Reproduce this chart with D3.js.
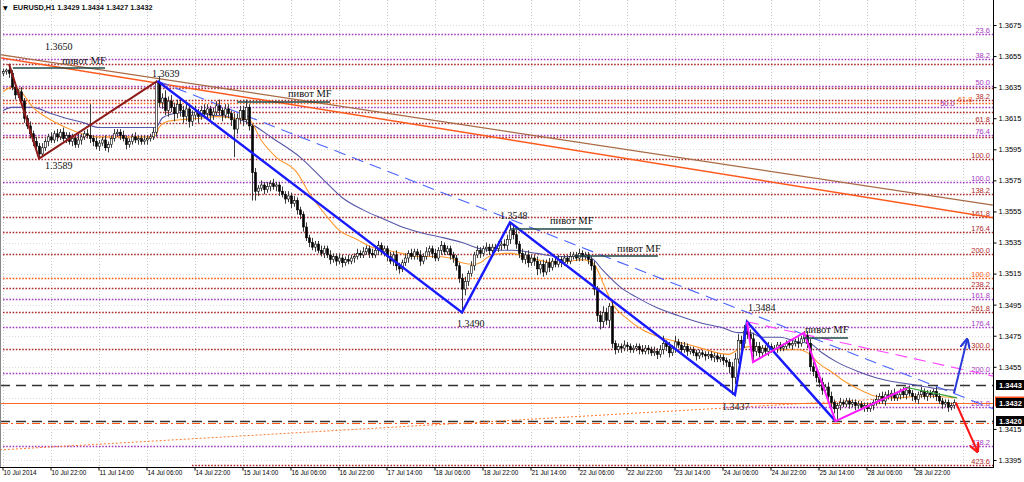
<!DOCTYPE html>
<html><head><meta charset="utf-8">
<script src="https://cdn.jsdelivr.net/npm/d3@7"></script>
<style>body{margin:0;background:#fff;}svg{display:block;}</style>
</head><body>
<svg id="c" width="1024" height="482"></svg>
<script>
// ---------- DATA (prices in pips above 1.3000, bar index = hourly bar) ----------
const title = "EURUSD,H1  1.3429 1.3434 1.3427 1.3432";
const tickLabels = ["10 Jul 2014","10 Jul 22:00","11 Jul 14:00","14 Jul 06:00","14 Jul 22:00","15 Jul 14:00","16 Jul 06:00","16 Jul 22:00","17 Jul 14:00","18 Jul 06:00","18 Jul 22:00","21 Jul 14:00","22 Jul 06:00","22 Jul 22:00","23 Jul 14:00","24 Jul 06:00","24 Jul 22:00","25 Jul 14:00","28 Jul 06:00","28 Jul 22:00"];
const tickBars = [0,16,32,48,64,80,96,112,128,144,160,176,192,208,224,240,256,272,288,304];
const priceTicks = [3675,3655,3635,3615,3595,3575,3555,3535,3515,3495,3475,3455,3415,3395];
const firstOpen = 3644;
const closes = [
3645,3646,3644,3635,3630,3632,3626,3615,3610,3605,
3600,3597,3592,3596,3600,3603,3601,3605,3603,3606,
3602,3604,3600,3602,3598,3601,3603,3605,3604,3602,
3600,3597,3599,3601,3596,3598,3602,3605,3606,3604,
3602,3598,3600,3603,3601,3602,3600,3601,3602,3603,
3606,3638,3625,3628,3620,3626,3622,3618,3624,3620,
3616,3621,3613,3617,3619,3616,3620,3618,3621,3617,
3619,3623,3620,3617,3621,3618,3614,3608,3615,3620,
3614,3622,3610,3580,3568,3570,3572,3569,3571,3573,
3571,3572,3568,3566,3563,3565,3560,3562,3556,3553,
3545,3538,3535,3532,3534,3530,3528,3531,3527,3524,
3526,3523,3525,3522,3524,3523,3525,3526,3528,3527,
3529,3531,3528,3527,3530,3533,3529,3531,3526,3523,
3527,3520,3518,3522,3525,3528,3526,3529,3527,3523,
3526,3529,3531,3528,3525,3530,3533,3529,3531,3527,
3525,3520,3512,3505,3510,3515,3520,3527,3530,3528,
3531,3532,3530,3532,3531,3533,3534,3533,3537,3543,
3540,3534,3528,3524,3527,3522,3525,3523,3518,3521,
3516,3522,3519,3523,3521,3524,3522,3525,3523,3526,
3527,3525,3528,3526,3527,3524,3520,3505,3488,3484,
3490,3485,3494,3470,3466,3468,3467,3469,3468,3466,
3467,3468,3466,3465,3467,3466,3464,3465,3463,3466,
3470,3468,3464,3467,3471,3469,3466,3468,3465,3466,
3464,3462,3464,3463,3462,3463,3461,3462,3460,3461,
3459,3458,3455,3448,3460,3472,3470,3478,3476,3473,
3465,3468,3464,3467,3465,3468,3466,3467,3469,3467,
3468,3470,3469,3470,3471,3470,3473,3475,3470,3455,
3452,3448,3445,3440,3442,3436,3432,3428,3430,3432,
3431,3433,3431,3432,3430,3431,3429,3430,3428,3430,
3432,3434,3436,3433,3437,3436,3438,3435,3437,3439,
3437,3440,3438,3436,3434,3437,3439,3436,3438,3437,
3439,3436,3433,3431,3432,3429,3430,3432];
const wickUp = [
2,1,4,2,3,2,3,2,2,3, 2,3,2,3,2,2,3,2,3,2, 3,2,2,3,2,4,2,2,3,20, 2,3,2,2,3,2,2,3,2,2,
3,2,2,2,3,2,2,3,2,2, 3,1,4,3,5,3,4,3,3,4, 3,4,3,3,4,2,3,4,3,2, 3,3,4,2,3,3,2,4,3,3,
3,5,2,1,3,2,3,2,3,2, 3,2,2,3,2,3,2,3,2,2, 2,3,2,3,2,2,3,2,2,3, 2,2,3,2,2,3,2,2,3,2,
3,2,2,3,3,3,2,2,2,3, 2,3,2,2,3,2,3,2,2,3, 2,3,2,2,3,2,3,2,2,2, 2,2,2,3,3,2,3,2,3,2,
2,3,2,2,2,3,2,3,3,5, 3,3,2,3,2,3,2,2,3,2, 3,2,3,2,2,3,2,2,2,3, 2,2,3,2,2,2,2,3,2,3,
4,3,2,3,2,2,2,3,2,2, 2,2,2,3,2,2,2,3,2,3, 5,2,3,2,4,2,2,3,2,2, 2,2,2,2,2,2,2,2,2,2,
2,2,2,3,4,4,3,4,6,3, 4,3,3,2,2,3,2,2,2,2, 2,2,2,2,2,3,2,3,3,3, 3,3,2,3,2,3,3,2,2,3,
2,2,2,2,2,2,2,2,2,2, 2,3,2,3,2,3,2,3,2,2, 3,2,3,2,2,2,3,2,2,2, 2,3,2,2,2,2,2,2];
const wickDn = [
2,2,3,2,3,2,3,3,2,3, 3,2,3,2,2,3,2,2,3,2, 2,3,2,3,2,2,3,2,2,3, 3,2,3,2,2,3,2,2,2,3,
2,3,2,2,2,3,2,2,3,2, 2,3,3,4,3,4,3,5,3,4, 4,3,4,3,3,4,2,3,3,4, 3,2,3,4,2,3,4,18,3,3,
4,3,3,18,6,3,2,3,2,3, 2,3,3,2,3,2,3,2,3,3, 3,2,3,2,3,2,2,3,2,3, 2,3,2,3,2,2,2,3,2,2,
2,2,3,2,2,3,2,3,3,2, 3,3,3,2,2,3,2,2,3,3, 2,2,3,3,2,2,3,2,2,3, 3,3,3,15,4,3,2,3,2,3,
2,2,3,2,2,2,3,2,3,3, 3,3,3,2,3,3,2,3,4,3, 3,2,3,2,2,2,3,2,2,2, 2,2,2,3,2,3,3,4,4,5,
4,3,5,3,3,2,3,2,3,2, 2,2,3,2,2,3,2,2,3,2, 3,3,3,2,3,2,3,2,3,2, 2,3,2,2,3,2,2,3,2,2,
3,3,4,11,4,3,5,3,3,3, 7,3,3,2,2,3,2,2,3,2, 2,2,2,3,2,3,2,2,3,3, 3,3,3,3,3,3,3,3,8,3,
2,2,3,2,3,2,2,3,2,2, 3,2,3,2,3,2,3,2,2,3, 2,3,2,3,2,3,2,2,3,2, 2,3,2,3,2,3,2,2];
const fastMA = [[0,3632],[3,3635],[6,3632],[10,3622],[15,3615],[21,3609],[28,3604],[32,3603],[38,3603],[48,3603],[51,3604],[52,3609],[55,3613],[59,3614],[66,3615],[71,3616],[77,3615],[82,3614],[86,3601],[91,3590],[98,3580],[102,3567],[107,3554],[112,3543],[118,3537],[123,3532],[128,3530],[133,3528],[138,3526],[145,3526],[149,3525],[153,3522],[157,3521],[159,3522],[162,3526],[167,3528],[170,3528],[173,3526],[178,3524],[183,3522],[189,3523],[193,3524],[197,3521],[200,3509],[203,3496],[208,3486],[213,3479],[219,3474],[225,3471],[231,3468],[238,3464],[242,3463],[245,3466],[249,3468],[253,3467],[259,3466],[265,3466],[269,3463],[272,3457],[276,3452],[281,3445],[287,3439],[291,3436],[298,3435],[305,3436],[310,3436],[317,3435]];
const slowMA = [[0,3620],[3,3622],[10,3622],[16,3618],[21,3615],[27,3612],[32,3609],[48,3609],[51,3609],[53,3615],[57,3618],[61,3619],[66,3618],[70,3617],[75,3616],[79,3614],[82,3612],[90,3602],[99,3590],[107,3575],[113,3564],[120,3556],[127,3550],[133,3545],[140,3541],[147,3538],[153,3535],[159,3531],[162,3530],[170,3530],[178,3528],[185,3526],[192,3526],[196,3525],[200,3517],[206,3506],[211,3500],[218,3493],[225,3488],[233,3483],[240,3480],[245,3477],[249,3477],[253,3474],[259,3474],[265,3471],[269,3470],[273,3464],[278,3458],[285,3452],[291,3448],[298,3445],[305,3443],[311,3441],[317,3440]];
const redZig = [[2,3650],[12,3589],[51.5,3639]];
const blueZig = [[51.5,3639],[153,3490],[169,3548],[244,3437],[248,3484],[277.5,3420]];
const pinkZig = [[248,3484],[250,3458],[267,3477],[277.5,3420],[302,3442]];
const orangeTrend = [[-1,3654],[330,3551]];
const brownTrend = [[-1,3656],[330,3559]];
const blueDashTrend = [[51.5,3639],[330,3428]];
const pinkDashTrend = [[248,3484],[330,3449]];
const greenTrend = [[300.5,3442],[318,3435]];
const orangeDotTrend = [[-1,3401.5],[299,3435]];
const upArrow = [[317,3438],[321.3,3472]];
const downArrow = [[317.6,3432],[324.7,3401]];
const fibPrices = [3669.2,3653.1,3649.9,3635.7,3634.5,3626.7,3624.8,3622.2,3619.0,3611.9,3604.2,3602.9,3588.8,3574.0,3566.2,3551.4,3541.8,3527.6,3512.1,3505.7,3498.6,3490.3,3480.6,3466.4,3451.0,3429.1,3404.0,3391.8];
const fibLabels = ["23.6","38.2","38.2","50.0","50.0","38.2","61.8","50.0","50.0","61.8","76.4","76.4","100.0","100.0","138.2","161.8","176.4","200.0","100.0","238.2","161.8","261.8","176.4","300.0","200.0","261.8","338.2","423.6"];
const fibSet = ["B","B","A","B","A","A","C","B","A","A","B","A","A","B","A","A","A","A","C","A","B","A","B","A","B","B","B","A"];
const fibStart = [0,0,0,0,0,0,0,0,0,0,0,0,0,0,0,0,0,0,0,0,0,0,0,0,0,240,0,63];
const levelPrices = [3443,3432,3420,3418.6];
const levelKinds = ["dash","solid","dash","dashdot"];
const tagPrices = [3443,3432,3420];
const pivotTexts = ["1.3650","1.3589","1.3639","1.3548","1.3490","1.3484","1.3437"];
const pivotAt = [[14,3659],[14,3582],[49.7,3641.5],[165.7,3550],[151.3,3480.6],[248.3,3491],[239.7,3427]];
const mfLines = [[3.3,34,3647.3],[78,109,3625.4],[169,196.3,3543.7],[190.7,218.3,3526.3],[266.7,281.7,3473.5]];
const mfTextAt = [[19.7,3649.9],[95,3628.7],[182.3,3546.9],[204.7,3528.9],[267.3,3476.7]];
const mfText = "пивот MF";

// ---------- CHART ----------
const svg = d3.select("#c");
const L=3, R=993, T=0, B=467;
const x = d3.scaleLinear().domain([0,330]).range([3,993]);
const y = d3.scaleLinear().domain([3390.5,3691.1]).range([B,T]);
const col = {A:"#b02a2a", B:"#a63ac4", C:"#ff5a14"};
const SANS = "Liberation Sans, Arial, sans-serif";
const SERIF = "Liberation Serif, Times New Roman, serif";

svg.append("rect").attr("width",1024).attr("height",482).attr("fill","#fff");
const defs = svg.append("defs");
defs.append("clipPath").attr("id","pc").append("rect").attr("x",0).attr("y",T).attr("width",R).attr("height",B-T);
const g = svg.append("g").attr("clip-path","url(#pc)");

// grid
g.selectAll(".vg").data(tickBars.concat([320])).enter().append("line")
  .attr("x1",d=>Math.round(x(d))+0.5).attr("x2",d=>Math.round(x(d))+0.5).attr("y1",T).attr("y2",B)
  .attr("stroke","#c8c8c8").attr("stroke-dasharray","1,2");
g.selectAll(".hg").data(priceTicks.concat([3435])).enter().append("line")
  .attr("x1",0).attr("x2",R).attr("y1",d=>Math.round(y(d))+0.5).attr("y2",d=>Math.round(y(d))+0.5)
  .attr("stroke","#dadada").attr("stroke-dasharray","1,2");

// fib levels (labels: identical neighbours share one text, near neighbours are shifted left)
const placed = [];
fibPrices.forEach((p,i)=>{
  const yy = Math.round(y(p))+0.5;
  g.append("line").attr("x1",x(fibStart[i])).attr("x2",R).attr("y1",yy).attr("y2",yy)
    .attr("stroke",col[fibSet[i]]).attr("stroke-width",1.4).attr("stroke-dasharray","1.6,1.6");
  const ty = yy-2;
  const dup = placed.find(q=>Math.abs(q.y-ty)<8 && q.t===fibLabels[i]);
  if(dup) return;
  let tx = 990;
  placed.filter(q=>Math.abs(q.y-ty)<7.5).forEach(q=>{ tx = Math.min(tx, q.x0-3); });
  const t = g.append("text").attr("x",tx).attr("y",ty).attr("text-anchor","end")
    .attr("font-family",SANS).attr("font-size",7.5)
    .attr("fill",col[fibSet[i]]).text(fibLabels[i]);
  const w = t.node().getComputedTextLength();
  placed.push({y:ty,x0:tx-w,t:fibLabels[i]});
});

// levels
levelPrices.forEach((p,i)=>{
  const yy = Math.round(y(p))+0.5;
  const k = levelKinds[i];
  const ln = g.append("line").attr("x1",0).attr("x2",R).attr("y1",yy).attr("y2",yy);
  if(k==="dash") ln.attr("stroke","#333").attr("stroke-width",1.3).attr("stroke-dasharray","10,6");
  else if(k==="solid") ln.attr("stroke","#ff6a2a").attr("stroke-width",1.2);
  else ln.attr("stroke","#ff5a14").attr("stroke-width",1).attr("stroke-dasharray","8,3,2,3");
});

const line = d3.line().x(d=>x(d[0])).y(d=>y(d[1]));
const path = (data,stroke,w,dash)=>{
  const p = g.append("path").datum(data).attr("d",line).attr("fill","none")
    .attr("stroke",stroke).attr("stroke-width",w);
  if(dash) p.attr("stroke-dasharray",dash);
  return p;
};

// trendlines
path(brownTrend,"#a86a44",1.2);
path(orangeTrend,"#ff5a1e",1.5);
path(orangeDotTrend,"#ff7a30",1,"2,2");
path(blueDashTrend,"#4a64ff",1.1,"12,7");
path(pinkDashTrend,"#ff44ff",1.1,"12,7");

// moving averages
const smooth = d3.line().x(d=>x(d[0])).y(d=>y(d[1])).curve(d3.curveMonotoneX);
g.append("path").datum(slowMA).attr("d",smooth).attr("fill","none").attr("stroke","#5656a8").attr("stroke-width",1.1);
g.append("path").datum(fastMA).attr("d",smooth).attr("fill","none").attr("stroke","#ff9a30").attr("stroke-width",1.1);

// candles
const bars = closes.map((c,i)=>{
  const o = i===0 ? firstOpen : closes[i-1];
  return {i,o,c,h:Math.max(o,c)+wickUp[i],l:Math.min(o,c)-wickDn[i]};
});
const cg = g.append("g");
cg.selectAll("line").data(bars).enter().append("line")
  .attr("x1",d=>Math.round(x(d.i))+0.5).attr("x2",d=>Math.round(x(d.i))+0.5)
  .attr("y1",d=>y(d.h)).attr("y2",d=>y(d.l)).attr("stroke","#3a3a3a").attr("stroke-width",1);
cg.selectAll("rect").data(bars).enter().append("rect")
  .attr("x",d=>Math.round(x(d.i))-0.5).attr("width",2)
  .attr("y",d=>y(Math.max(d.o,d.c))).attr("height",d=>Math.max(1,Math.abs(y(d.o)-y(d.c))))
  .attr("fill",d=>d.c>=d.o?"#fff":"#000").attr("stroke","#000").attr("stroke-width",0.6);

// zigzags
path(redZig,"#8e1c1c",2);
path(blueZig,"#1a1aff",2.4);
path(pinkZig,"#ff1aff",2);
path(greenTrend,"#30a030",1.2);

// pivot MF lines + texts
mfLines.forEach(m=>{
  g.append("line").attr("x1",x(m[0])).attr("x2",x(m[1])).attr("y1",y(m[2])).attr("y2",y(m[2]))
   .attr("stroke","#1e4848").attr("stroke-width",1.6);
});
mfTextAt.forEach(t=>{
  g.append("text").attr("x",x(t[0])).attr("y",y(t[1]))
   .attr("font-family",SERIF).attr("font-size",10.5).attr("fill","#111").text(mfText);
});
pivotTexts.forEach((t,i)=>{
  g.append("text").attr("x",x(pivotAt[i][0])).attr("y",y(pivotAt[i][1]))
   .attr("font-family",SERIF).attr("font-size",10).attr("fill","#111").text(t);
});

// arrows
[["ab","#2a3ad8"],["ar","#ff1414"]].forEach(([id,c])=>{
  defs.append("marker").attr("id",id).attr("viewBox","0 0 10 10").attr("refX",8).attr("refY",5)
    .attr("markerWidth",5).attr("markerHeight",5).attr("orient","auto")
    .append("path").attr("d","M0,0 L10,5 L0,10").attr("fill","none").attr("stroke",c).attr("stroke-width",2.2);
});
path(upArrow,"#2a3ad8",2).attr("marker-end","url(#ab)");
path(downArrow,"#ff1414",2).attr("marker-end","url(#ar)");

// frame
svg.append("line").attr("x1",R+0.5).attr("x2",R+0.5).attr("y1",0).attr("y2",B+1).attr("stroke","#000");
svg.append("line").attr("x1",0).attr("x2",R+1).attr("y1",B+0.5).attr("y2",B+0.5).attr("stroke","#000");
svg.append("line").attr("x1",0.5).attr("x2",0.5).attr("y1",0).attr("y2",B).attr("stroke","#888");

// right axis
const ra = svg.append("g").attr("transform",`translate(${R+0.5},0)`)
  .call(d3.axisRight(y).tickValues(priceTicks).tickSize(3).tickFormat(d=>"1."+d));
ra.select(".domain").remove();
ra.selectAll("text").attr("font-family",SANS).attr("font-size",7.5).attr("fill","#000").attr("x",5);
ra.selectAll("line").attr("stroke","#000");

// price tags
svg.append("rect").attr("x",R+2).attr("y",y(3432)-6).attr("width",31).attr("height",10).attr("fill","#ff4a1a");
tagPrices.forEach(p=>{
  svg.append("rect").attr("x",R+3).attr("y",Math.round(y(p))-5).attr("width",31).attr("height",10).attr("fill","#000");
  svg.append("text").attr("x",R+6).attr("y",Math.round(y(p))+3).attr("font-family",SANS)
   .attr("font-size",7.5).attr("font-weight","bold").attr("fill","#fff").text("1."+p);
});

// bottom axis
const ba = svg.append("g").attr("transform",`translate(0,${B+0.5})`)
  .call(d3.axisBottom(x).tickValues(tickBars).tickSize(3).tickFormat((d,i)=>tickLabels[i]));
ba.select(".domain").remove();
ba.selectAll("line").attr("stroke","#000").attr("transform","translate(-0.5,0)");
ba.selectAll("text").attr("font-family",SANS).attr("font-size",6.4)
  .attr("text-anchor","start").attr("fill","#000").attr("dy","0.55em").attr("x",0).attr("y",4);

// title
svg.append("text").attr("x",3).attr("y",10).attr("font-family","DejaVu Sans, sans-serif").attr("font-size",6).attr("fill","#000").text("▼");
svg.append("text").attr("x",13).attr("y",10).attr("font-family",SANS)
  .attr("font-size",7.3).attr("font-weight","bold").attr("fill","#111").text(title);
</script>
</body></html>
